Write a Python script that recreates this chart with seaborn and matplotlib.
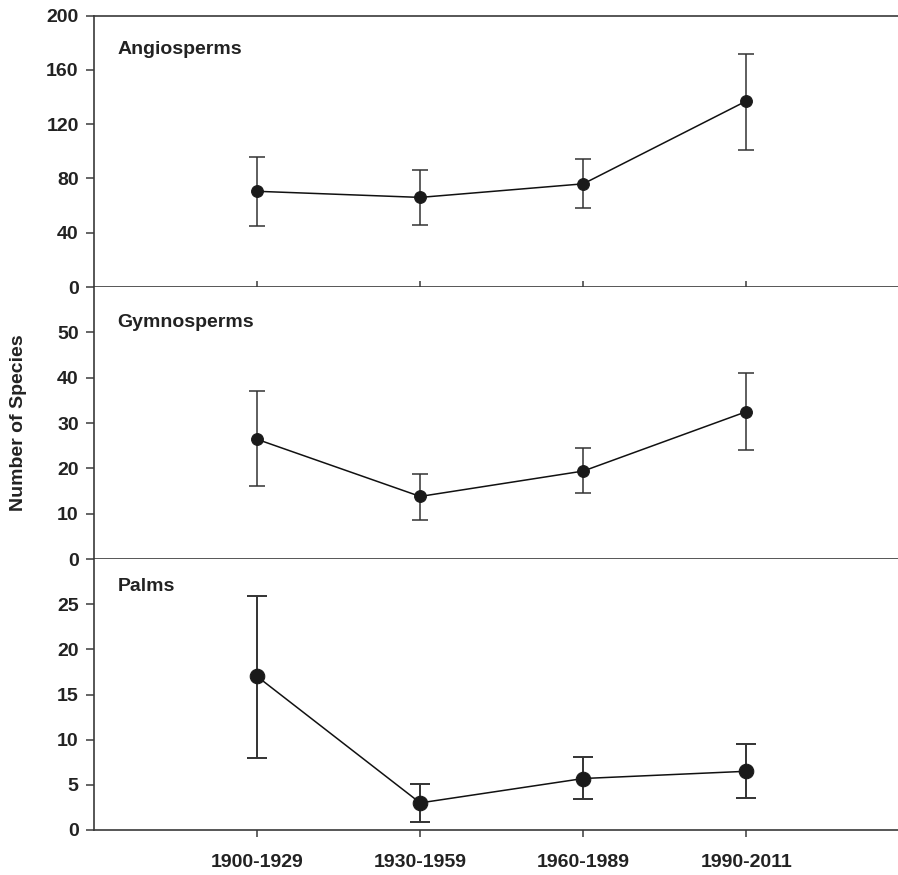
import matplotlib
matplotlib.use('Agg')
import matplotlib.pyplot as plt
import numpy as np
import pandas as pd
import seaborn as sns

periods = ['1900-1929', '1930-1959', '1960-1989', '1990-2011']

angio_mean = [70.5, 66, 76, 137]
angio_low = [45, 46, 58, 101]
angio_high = [96, 86.5, 94.5, 172]

gymno_mean = [26.4, 13.8, 19.4, 32.5]
gymno_low = [16.0, 8.6, 14.5, 24.0]
gymno_high = [37.0, 18.8, 24.5, 41.0]

palm_mean = [17.0, 3.0, 5.7, 6.5]
palm_low = [8.0, 0.9, 3.4, 3.5]
palm_high = [25.9, 5.1, 8.1, 9.5]

panels = [
    ('Angiosperms', angio_mean, angio_low, angio_high, (0, 200), [0, 40, 80, 120, 160, 200]),
    ('Gymnosperms', gymno_mean, gymno_low, gymno_high, (0, 60), [0, 10, 20, 30, 40, 50]),
    ('Palms', palm_mean, palm_low, palm_high, (0, 30), [0, 5, 10, 15, 20, 25]),
]
label_frac = [0.873, 0.868, 0.90]

sns.set_style('ticks')
plt.rcParams['font.family'] = ['Liberation Sans', 'DejaVu Sans']
plt.rcParams['font.weight'] = 'bold'

W, H = 898, 875
fig = plt.figure(figsize=(W / 100, H / 100), dpi=100)

left = 94 / W
edges = [15.5, 287, 559, 830]
spine_c = '#3a3a3a'
fs = 14

for i, (name, mean, low, high, ylim, yticks) in enumerate(panels):
    top = 1 - edges[i] / H
    bot = 1 - edges[i + 1] / H
    ax = fig.add_axes([left, bot, 1 - left, top - bot])

    df = pd.DataFrame({'pos': np.arange(len(periods)), 'value': mean,
                       'low': low, 'high': high})
    big = i == 2
    ms = 10.5 if big else 8.5
    cap = 7.5 if big else 6
    lw = 1.4 if big else 1.1
    yerr = [df['value'] - df['low'], df['high'] - df['value']]
    ax.errorbar(df['pos'], df['value'], yerr=yerr, fmt='none',
                ecolor='#333333', elinewidth=lw, capsize=cap, capthick=lw,
                zorder=2)
    sns.lineplot(data=df, x='pos', y='value', ax=ax, color='#111111',
                 linewidth=1.1, marker='o', markersize=ms,
                 markeredgecolor='#1a1a1a', markerfacecolor='#1a1a1a',
                 zorder=3, legend=False)

    ax.set_xlim(-1, 3.93)
    ax.set_ylim(*ylim)
    ax.set_yticks(yticks)
    ax.set_yticklabels([str(t) for t in yticks], fontsize=fs,
                       fontweight='bold', color='#222222')
    ax.set_xlabel('')
    ax.set_ylabel('')

    ax.spines['right'].set_visible(False)
    ax.spines['top'].set_visible(i == 0)
    for s in ['left', 'bottom', 'top']:
        ax.spines[s].set_color(spine_c)
        ax.spines[s].set_linewidth(1.2)
    ax.tick_params(axis='y', direction='out', length=6, width=1.1,
                   color=spine_c, pad=5)

    ax.set_xticks(range(len(periods)))
    if i == 0:
        ax.tick_params(axis='x', direction='in', length=4, width=1.1,
                       color=spine_c, labelbottom=False)
    elif i == 1:
        ax.tick_params(axis='x', length=0, labelbottom=False)
    else:
        ax.set_xticklabels(periods, fontsize=fs, fontweight='bold',
                           color='#222222')
        ax.tick_params(axis='x', direction='out', length=5, width=1.1,
                       color=spine_c, pad=12)

    ax.text(-0.855, ylim[1] * label_frac[i], name, fontsize=fs,
            fontweight='bold', ha='left', va='center', color='#222222')

fig.text(19 / W, 1 - 423 / H, 'Number of Species', rotation=90,
         ha='center', va='center', fontsize=14, fontweight='bold',
         color='#222222')

fig.savefig('out.png', dpi=100, facecolor='white')
